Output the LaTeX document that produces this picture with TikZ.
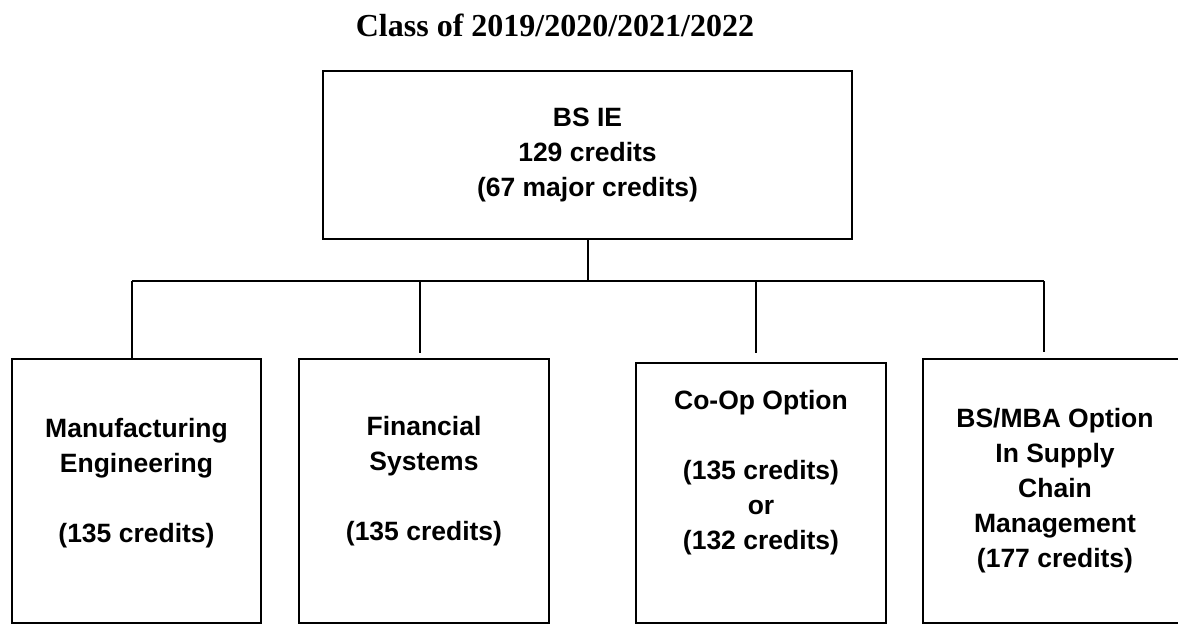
\documentclass[tikz,border=0pt]{standalone}
\usepackage{fontspec}
\setmainfont{Liberation Serif}
\setsansfont{Liberation Sans}
\begin{document}
\begin{tikzpicture}[x=1pt,y=-1pt,
  box/.style={draw=black, line width=2.6pt, rectangle, inner sep=0pt},
  lbl/.style={inner sep=0pt, anchor=north, align=center, font=\sffamily\bfseries\fontsize{26.5}{35}\selectfont},
  conn/.style={draw=black, line width=2pt}]
\useasboundingbox (0,0) rectangle (1178,624);
% title
\node[inner sep=0pt, anchor=base, font=\rmfamily\bfseries\fontsize{32}{38}\selectfont] (title) at (555,36) {Class of 2019/2020/2021/2022};
% boxes
\node[box, minimum width=529pt, minimum height=168pt] (top) at (587.5,155) {};
\node[box, minimum width=249pt, minimum height=264pt] (b1) at (136.5,491) {};
\node[box, minimum width=250pt, minimum height=264pt] (b2) at (424,491) {};
\node[box, minimum width=250pt, minimum height=260pt] (b3) at (761,493) {};
\node[box, minimum width=264pt, minimum height=264pt] (b4) at (1055,491) {};
% texts
\node[lbl] (t0) at (587.5,108) {BS IE\\129 credits\\(67 major credits)};
\node[lbl] (t1) at (136.5,418) {Manufacturing\\Engineering\\~\\(135 credits)};
\node[lbl] (t2) at (424,416) {Financial\\Systems\\~\\(135 credits)};
\node[lbl] (t3) at (761,390) {Co-Op Option\\~\\(135 credits)\\or\\(132 credits)};
\node[lbl] (t4) at (1055,408) {BS/MBA Option\\In Supply\\Chain\\Management\\(177 credits)};
% connectors
\coordinate (bar) at (587.5,281);
\coordinate (d1) at (132,281);
\coordinate (d2) at (420,281);
\coordinate (d3) at (756,281);
\coordinate (d4) at (1044,281);
\coordinate (e2) at (420,353);
\coordinate (e3) at (756,353);
\coordinate (e4) at (1044,352);
\draw[conn] (top.south) -- (bar);
\draw[conn] (d1) -- (d4);
\draw[conn] (d1) -- (d1 |- b1.north);
\draw[conn] (d2) -- (e2);
\draw[conn] (d3) -- (e3);
\draw[conn] (d4) -- (e4);
\end{tikzpicture}
\end{document}
